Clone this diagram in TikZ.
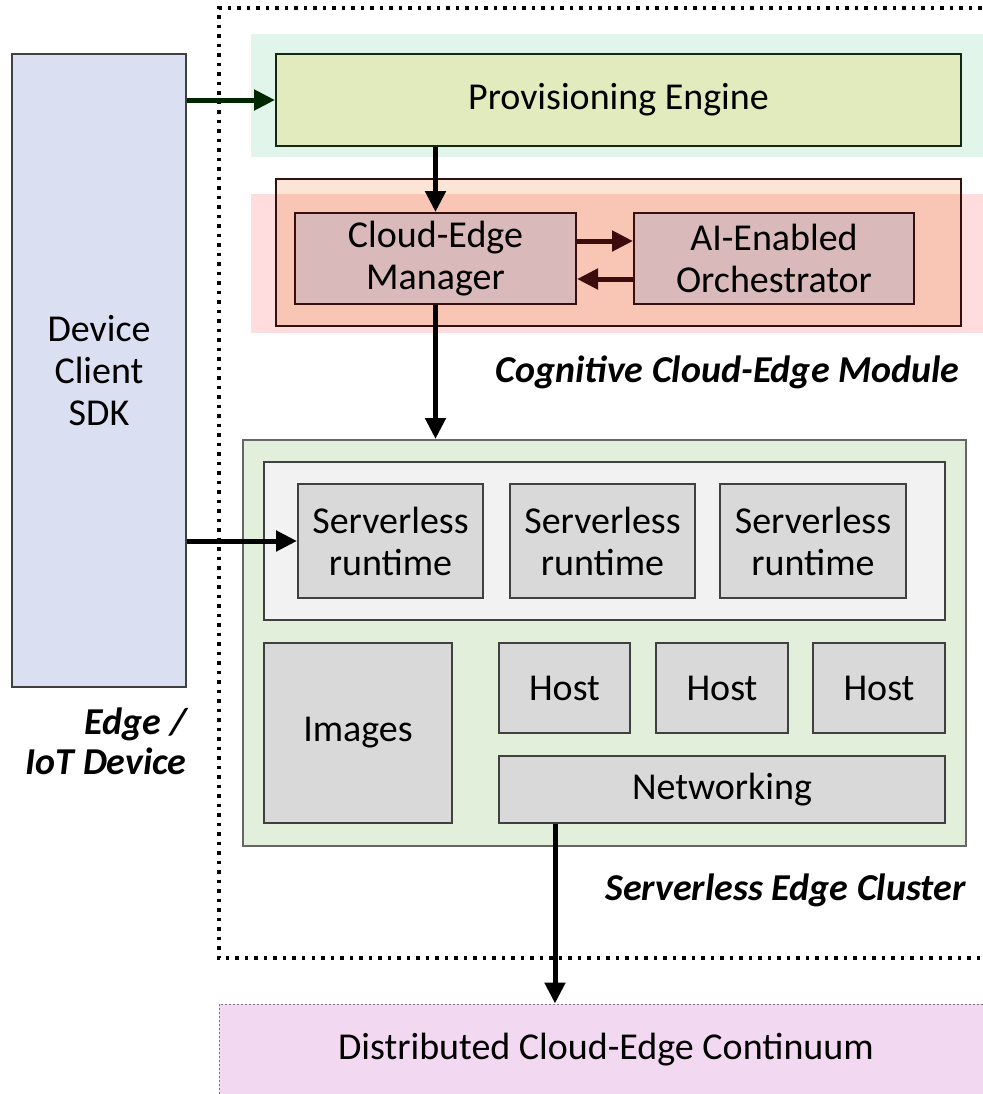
\documentclass[tikz,border=0pt]{standalone}
\usepackage{fontspec}
\setmainfont{Carlito}
\usetikzlibrary{fit,arrows.meta}
\definecolor{mint}{HTML}{E1F5EA}
\definecolor{pefill}{HTML}{E1EBBE}
\definecolor{peach}{HTML}{FBE5D6}
\definecolor{salmon}{HTML}{F9C6B6}
\definecolor{pinkhl}{HTML}{FFDDDE}
\definecolor{cemfill}{HTML}{D9B9BA}
\definecolor{sdkfill}{HTML}{DAE0F2}
\definecolor{clfill}{HTML}{E2EFDA}
\definecolor{innerfill}{HTML}{F2F2F2}
\definecolor{boxgray}{HTML}{D9D9D9}
\definecolor{contfill}{HTML}{F2D8F1}
\definecolor{bord}{HTML}{404040}
\definecolor{maroon}{HTML}{3C0B0B}
\tikzset{
  txt/.style={font=\fontsize{19}{21}\selectfont, align=center, text=black, inner sep=0pt},
  box/.style={draw=bord, line width=1pt, inner sep=0pt},
  lbl/.style={font=\fontsize{19}{20}\selectfont\bfseries\itshape, align=right, anchor=east, inner sep=0pt},
  arr/.style={line width=2.5pt, -{Triangle[length=10.5pt,width=10pt]}},
}
\begin{document}
\begin{tikzpicture}[x=0.5pt,y=-0.5pt]
\useasboundingbox[fill=white] (0,0) rectangle (983,1094);
% outer dotted frame
\draw[line width=1.75pt, dash pattern=on 1.75pt off 3pt] (1010,8) -- (219,8) -- (219,958) -- (1010,958);
% device
\node[box, fill=sdkfill, fit={(12,54)(186,687)}] (sdk) {};
\node[txt] (sdkt) at (sdk.center) {Device\\Client\\SDK};
\node[lbl] (edgelbl) at (187,741) {Edge /\\IoT Device};
% provisioning
\fill[mint] (251,34) rectangle (1000,157);
\node[box, fill=pefill, draw=bord!80!green!40!black, fit={(276,54)(961,146)}] (pe) {};
\node[txt] (pet) at (pe.center) {Provisioning Engine};
% cognitive module
\fill[peach] (276,179) rectangle (961,326);
\fill[pinkhl] (251,194) rectangle (1000,333);
\fill[salmon] (276,194) rectangle (961,326);
\node[draw=bord!70!red!40!black, line width=1pt, inner sep=0pt, fit={(276,179)(961,326)}] (cog) {};
\node[box, fill=cemfill, draw=bord!60!red!40!black, fit={(295,213)(576,304)}] (cem) {};
\node[txt] (cemt) at (cem.center) {Cloud-Edge\\Manager};
\node[box, fill=cemfill, draw=bord!60!red!40!black, fit={(634,213)(914,304)}] (ai) {};
\node[txt] (ait) at (ai.center) {AI-Enabled\\Orchestrator};
\node[lbl] (coglbl) at (960,372) {Cognitive Cloud-Edge Module};
% cluster
\node[draw=bord!80, line width=1pt, fill=clfill, inner sep=0pt, fit={(243,440)(966,846)}] (cluster) {};
\node[draw=bord, line width=1pt, fill=innerfill, inner sep=0pt, fit={(264,462)(945,620)}] (inner) {};
\node[box, fill=boxgray, fit={(298,484)(483,598)}] (rt1) {};
\node[txt] (rt1t) at (rt1.center) {Serverless\\runtime};
\node[box, fill=boxgray, fit={(510,484)(695,598)}] (rt2) {};
\node[txt] (rt2t) at (rt2.center) {Serverless\\runtime};
\node[box, fill=boxgray, fit={(720,484)(906,598)}] (rt3) {};
\node[txt] (rt3t) at (rt3.center) {Serverless\\runtime};
\node[box, fill=boxgray, fit={(264,643)(452,823)}] (img) {};
\node[txt] (imgt) at (img.center) {Images};
\node[box, fill=boxgray, fit={(499,643)(630,733)}] (h1) {};
\node[txt] (h1t) at (h1.center) {Host};
\node[box, fill=boxgray, fit={(656,643)(788,733)}] (h2) {};
\node[txt] (h2t) at (h2.center) {Host};
\node[box, fill=boxgray, fit={(813,643)(945,733)}] (h3) {};
\node[txt] (h3t) at (h3.center) {Host};
\node[box, fill=boxgray, fit={(499,756)(945,823)}] (net) {};
\node[txt] (nett) at (net.center) {Networking};
\node[lbl] (cllbl) at (966,890) {Serverless Edge Cluster};
% continuum
\node[fill=contfill, draw=bord!70, line width=0.5pt, dash pattern=on 1pt off 1pt, inner sep=0pt, fit={(219,1004)(993,1096)}] (cont) {};
\node[txt] (contt) at (cont.center) {Distributed Cloud-Edge Continuum};
% connectors
\coordinate (ya) at (0,241);
\coordinate (yb) at (0,279);
\coordinate (nx) at (555,0);
\draw[arr, draw=black!85!green] (sdk.east |- pe.west) -- (pe.west);
\draw[arr] (sdk.east |- rt1.west) -- (rt1.west);
\draw[arr] (pe.south -| cem.north) -- (cem.north);
\draw[arr, draw=maroon] (cem.east |- ya) -- (ai.west |- ya);
\draw[arr, draw=maroon] (ai.west |- yb) -- (cem.east |- yb);
\draw[arr] (cem.south) -- (cem.south |- cluster.north);
\draw[arr] (net.south -| nx) -- (cont.north -| nx);
\end{tikzpicture}
\end{document}
